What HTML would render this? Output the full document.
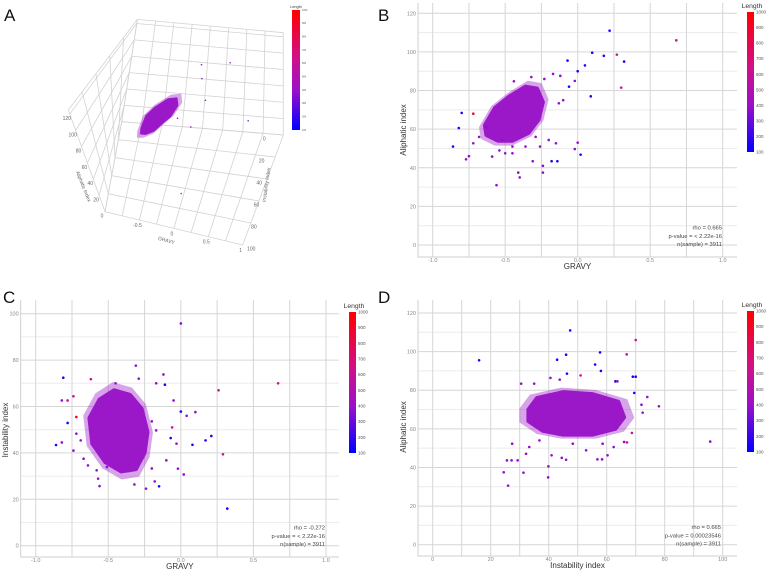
<!DOCTYPE html>
<html><head><meta charset="utf-8">
<style>
html,body{margin:0;padding:0;background:#fff;}
svg{display:block;font-family:"Liberation Sans",sans-serif;}
</style></head>
<body>
<svg id="fig" width="772" height="574" viewBox="0 0 772 574" xmlns="http://www.w3.org/2000/svg">
<defs>
<linearGradient id="lenGrad" x1="0" y1="1" x2="0" y2="0">
<stop offset="0" stop-color="#0000ff"/><stop offset="0.33" stop-color="#9a10c8"/><stop offset="0.6" stop-color="#d0108a"/><stop offset="1" stop-color="#ff0000"/>
</linearGradient>
</defs>
<text x="4" y="21" font-size="17" fill="#111">A</text>
<text x="378" y="21" font-size="17" fill="#111">B</text>
<text x="3" y="303" font-size="17" fill="#111">C</text>
<text x="378" y="303" font-size="17" fill="#111">D</text>
</svg>
<script>
// ---------- data ----------
const bGravy=[0.22,0.68,0.1,0.18,0.27,0.32,-0.07,0.05,0,0.3,0.09,-0.06,-0.02,-0.8,-0.72,-0.82,-0.86,-0.77,-0.75,-0.56,-0.41,-0.4,-0.24,-0.24,-0.18,-0.14,-0.31,0,-0.02,0.02,-0.5,-0.45,-0.15,-0.2,-0.1,-0.13,-0.44,-0.32,-0.23,-0.17,-0.12,-0.63,-0.68,-0.72,-0.59,-0.54,-0.29,-0.26,-0.36,-0.52,-0.45];
const bAliph=[111,106,99.6,98,98.6,95,95.5,93,90,81.5,77,82,85,68.4,68,60.6,51,44.4,46,31,37.5,35,41,37.5,43.4,43.4,43.4,53,49.7,46.8,47.5,47.5,52.7,54.4,75,73.4,84.8,87,86,88.6,87.6,61,56,52.7,45.8,49,56,51,51,54.4,51];
const bLen=[150,620,150,150,620,150,150,150,150,620,150,150,380,150,900,150,150,380,380,380,380,380,380,380,150,150,380,380,380,150,380,380,380,380,380,380,380,380,380,380,380,380,380,380,380,380,380,380,380,380,380];
const bBlobGravy=[-0.64,-0.57,-0.47,-0.36,-0.28,-0.24,-0.27,-0.34,-0.45,-0.55,-0.63];
const bBlobAliph=[62,71,77,82,81,74,65,58,54,54,57];

const cGravy=[0,-0.81,-0.62,-0.31,-0.29,-0.12,-0.17,-0.11,-0.45,0.67,0.26,0,0.04,0.1,-0.05,-0.06,-0.07,-0.03,0.08,0.17,0.21,0.29,-0.02,0.02,0.32,-0.86,-0.82,-0.78,-0.82,-0.78,-0.74,-0.72,-0.57,-0.56,-0.32,-0.24,-0.15,-0.18,-0.1,-0.2,-0.74,-0.67,-0.64,-0.69,-0.72,-0.2,-0.17,-0.58,-0.51];
const cInstab=[95.8,72.4,71.8,77.6,72,73.8,70,69.4,70,70,67,57.8,56,57.6,62.6,51,46.4,44,43.5,45.4,47.3,39.4,33.2,30.7,16,43.4,44.5,52.9,62.6,62.6,64.4,55.5,28.9,25.7,26.4,24.6,25.6,27.7,36.8,33.3,41,37.5,34.6,45.4,48.3,53.6,49.7,32.5,33.9];
const cLen=[380,150,620,380,380,380,380,150,380,620,620,150,380,380,380,620,150,380,150,150,150,620,380,380,150,150,380,150,380,620,620,900,380,380,380,380,150,380,380,380,380,380,380,380,380,380,380,380,380];
const cBlobGravy=[-0.63,-0.56,-0.46,-0.35,-0.27,-0.23,-0.25,-0.31,-0.41,-0.52,-0.61];
const cBlobInstab=[55,63,67,65,59,49,40,33,32,36,44];

const dInstab=[16,47.4,70,57.7,46,66.9,42.9,56,58,46.3,51,69,70,40.6,43.8,63,63.7,30.5,35,95.7,78,74,72.4,72,68.7,69.5,67,66,24.5,26,31.3,39.9,39.8,27.4,29.3,25.6,27.2,41,44.5,46,56.8,58.4,60.3,62.4,58.6,36.8,33.3,32.2,52.9,48.3];
const dAliph=[95.5,111,106,99.6,98.4,98.6,95.8,93.3,90,88.6,87.7,87,87,86.4,85.5,84.6,84.6,83.4,83.4,53.4,71.7,76.5,68.4,72.5,57.9,78.6,53,53.2,37.5,30.6,37.3,40.6,34.9,52.3,43.7,43.7,43.7,46.3,45,44,44.2,44.2,46.3,50.6,52.3,54,50.6,47.1,48.9,52.3];
const dLen=[150,150,620,150,150,620,150,150,150,150,620,150,150,380,380,150,380,380,380,380,380,380,380,380,620,150,620,380];
const dBlobInstab=[33,36,45,55,64,66,63,55,45,38,33];
const dBlobAliph=[70,76,79,78,74,66,60,57,57,59,64];

const aGravy=[-0.1,0.2,0.5,0.9,0.3,0.1,-0.2,0.0,0.4];
const aInstab=[40,30,20,40,60,80,50,10,45];
const aAliph=[60,100,110,70,80,20,75,90,95];
const aBlobGravy=[-0.5,-0.45,-0.35,-0.2,-0.1,-0.08,-0.15,-0.25,-0.35,-0.45,-0.5];
const aBlobAliph=[60,70,76,82,82,76,68,62,56,54,56];
const aBlobInstab=[55,50,45,40,38,40,45,48,52,55,57];

const lenTicks=[100,200,300,400,500,600,700,800,900,1000];

// ---------- helpers ----------
const NS="http://www.w3.org/2000/svg";
const svg=document.getElementById('fig');
function el(tag,attrs,parent){const e=document.createElementNS(NS,tag);for(const k in attrs)e.setAttribute(k,attrs[k]);(parent||svg).appendChild(e);return e;}
function lenColor(L){
  const t=Math.max(0,Math.min(1,(L-100)/900));
  const st=[[0,0,0,255],[0.33,154,16,200],[0.6,208,16,138],[1,255,0,0]];
  for(let i=1;i<st.length;i++){if(t<=st[i][0]){const a=st[i-1],b=st[i],f=(t-a[0])/(b[0]-a[0]);
    return 'rgb('+Math.round(a[1]+f*(b[1]-a[1]))+','+Math.round(a[2]+f*(b[2]-a[2]))+','+Math.round(a[3]+f*(b[3]-a[3]))+')';}}
  return 'rgb(255,0,0)';
}
const BLOB='#9b18c9';
function halo(ptsArr,k){
  let cx=0,cy=0;ptsArr.forEach(p=>{cx+=p[0];cy+=p[1];});cx/=ptsArr.length;cy/=ptsArr.length;
  return ptsArr.map(p=>(cx+(p[0]-cx)*k)+','+(cy+(p[1]-cy)*k)).join(' ');
}

function colorbar(g,x,y0,y1,w,fs,lx,ly,name){
  const r=el('rect',{x:x,y:y0,width:w,height:y1-y0,fill:'url(#lenGrad)'},g);
  
  
  const t=el('text',{x:lx,y:ly,'font-size':fs*1.5,fill:'#333','text-anchor':'middle'},g);t.textContent='Length';
  
  
  lenTicks.forEach(v=>{
    const yy=y1-(v-100)/900*(y1-y0);
    const tt=el('text',{x:x+w+2,y:yy+fs*0.35,'font-size':fs,fill:'#555'},g);tt.textContent=v;
    
    
  });
}

function panel(cfg){
  const g=el('g',{});
  
  
  const X=v=>cfg.x0+(v-cfg.xv0)*(cfg.x1-cfg.x0)/(cfg.xv1-cfg.xv0);
  const Y=v=>cfg.y0+(v-cfg.yv0)*(cfg.y1-cfg.y0)/(cfg.yv1-cfg.yv0);
  cfg.yMinor.forEach(v=>{const l=el('line',{x1:cfg.L,x2:cfg.R,y1:Y(v),y2:Y(v),stroke:'#ececec','stroke-width':1},g);
    
    });
  cfg.xTicks.forEach(v=>{const l=el('line',{x1:X(v),x2:X(v),y1:cfg.T,y2:cfg.B,stroke:'#d6d6d6','stroke-width':1},g);
    
    });
  cfg.xMinor.forEach(v=>{const l=el('line',{x1:X(v),x2:X(v),y1:cfg.T,y2:cfg.B,stroke:'#d6d6d6','stroke-width':1},g);
    
    });
  cfg.yTicks.forEach(v=>{const l=el('line',{x1:cfg.L,x2:cfg.R,y1:Y(v),y2:Y(v),stroke:'#d6d6d6','stroke-width':1},g);
    
    
    const t=el('text',{x:cfg.L-2,y:Y(v)+2,'font-size':5.5,fill:'#888','text-anchor':'end'},g);t.textContent=v;
    
    });
  cfg.xTicks.forEach(v=>{const t=el('text',{x:X(v),y:cfg.B+5,'font-size':5.5,fill:'#888','text-anchor':'middle'},g);t.textContent=v.toFixed(cfg.xdec);
    
    });
  const ax=el('polyline',{points:cfg.L+','+cfg.T+' '+cfg.L+','+cfg.B+' '+cfg.R+','+cfg.B,fill:'none',stroke:'#cfcfcf','stroke-width':1},g);
  
  
  const bpts=cfg.blobX.map((v,i)=>[X(v),Y(cfg.blobY[i])]);
  const hl=el('polygon',{points:halo(bpts,1.2),fill:BLOB,'fill-opacity':0.4,stroke:'none'},g);
  
  
  const bl=el('polygon',{points:bpts.map(p=>p.join(',')).join(' '),fill:BLOB,stroke:BLOB,'stroke-width':4,'stroke-linejoin':'round'},g);
  
  
  cfg.px.forEach((v,i)=>{
    const c=el('circle',{cx:X(v),cy:Y(cfg.py[i]),r:1.3,fill:lenColor(cfg.pl[i]!==undefined?cfg.pl[i]:380)},g);
    
    
  });
  const xt=el('text',{x:(cfg.L+cfg.R)/2,y:cfg.B+12,'font-size':8,fill:'#333','text-anchor':'middle'},g);xt.textContent=cfg.xTitle;
  
  
  const yt=el('text',{x:0,y:0,'font-size':8,fill:'#333','text-anchor':'middle',transform:'translate('+cfg.ytx+','+cfg.yty+') rotate(-90)'},g);yt.textContent=cfg.yTitle;
  
  
  cfg.ann.forEach((s,i)=>{const t=el('text',{x:cfg.annX,y:cfg.annY+i*8.3,'font-size':5.8,fill:'#444','text-anchor':'end'},g);t.textContent=s;
    
    });
  colorbar(g,cfg.cbX,cfg.cbT,cfg.cbB,7,4.5,cfg.cbX+5,cfg.cbT-4,cfg.name);
}
const ten=[10,30,50,70,90,110];
panel({name:'panel-b',x0:432.7,x1:722.7,xv0:-1,xv1:1,y0:245,y1:13.3,yv0:0,yv1:120,L:418,R:737,T:3,B:257,
  xTicks:[-1,-0.5,0,0.5,1],xMinor:[-0.75,-0.25,0.25,0.75],xdec:1,yTicks:[0,20,40,60,80,100,120],yMinor:ten,
  blobX:bBlobGravy,blobY:bBlobAliph,px:bGravy,py:bAliph,pl:bLen,xTitle:'GRAVY',yTitle:'Aliphatic index',ytx:406,yty:130,
  ann:['rho =  0.665','p-value =  < 2.22e-16','n(sample) = 3911'],annX:722,annY:229.5,cbX:747,cbT:12,cbB:152});
panel({name:'panel-c',x0:35.7,x1:326,xv0:-1,xv1:1,y0:545.7,y1:313.7,yv0:0,yv1:100,L:20.7,R:339,T:300,B:557,
  xTicks:[-1,-0.5,0,0.5,1],xMinor:[-0.75,-0.25,0.25,0.75],xdec:1,yTicks:[0,20,40,60,80,100],yMinor:[10,30,50,70,90],
  blobX:cBlobGravy,blobY:cBlobInstab,px:cGravy,py:cInstab,pl:cLen,xTitle:'GRAVY',yTitle:'Instability index',ytx:8,yty:430,
  ann:['rho =  -0.272','p-value =  < 2.22e-16','n(sample) = 3911'],annX:325,annY:529.5,cbX:349,cbT:312,cbB:453});
panel({name:'panel-d',x0:432.7,x1:722.7,xv0:0,xv1:100,y0:544.7,y1:313,yv0:0,yv1:120,L:418,R:737,T:300,B:556,
  xTicks:[0,20,40,60,80,100],xMinor:[10,30,50,70,90],xdec:0,yTicks:[0,20,40,60,80,100,120],yMinor:ten,
  blobX:dBlobInstab,blobY:dBlobAliph,px:dInstab,py:dAliph,pl:dLen,xTitle:'Instability index',yTitle:'Aliphatic index',ytx:406,yty:427,
  ann:['rho =  0.665','p-value =  0.00023546','n(sample) = 3911'],annX:721,annY:529,cbX:747,cbT:311,cbB:452});

// ---------- panel A (3D) ----------
(function(){
  const g=el('g',{});
  
  
  const BL=[121.7,121.7],BR=[283.3,135],FR=[242.7,245],FL=[105,211.7];
  const dBL=[15.7,-102.3],dBR=[0,-102.3],dFL=[-36.7,-101.7],dFR=[-52.3,-101.7];
  const ATOP=125;
  function P(gr,ins,al){
    const u=(gr+1)/2,v=ins/100,s=al/ATOP;
    const w=[(1-u)*(1-v),u*(1-v),u*v,(1-u)*v];
    const f=[BL,BR,FR,FL],d=[dBL,dBR,dFR,dFL];
    let x=0,y=0;for(let i=0;i<4;i++){x+=w[i]*(f[i][0]+s*d[i][0]);y+=w[i]*(f[i][1]+s*d[i][1]);}
    return [x,y];
  }
  function line(a,b,name){const l=el('line',{x1:a[0],y1:a[1],x2:b[0],y2:b[1],stroke:'#d2d2d2','stroke-width':0.8},g);
    
    }
  const gv=[-1,-0.75,-0.5,-0.25,0,0.25,0.5,0.75,1],iv=[0,20,40,60,80,100],av=[0,20,40,60,80,100,120,ATOP];
  gv.forEach(x=>{line(P(x,0,0),P(x,100,0),'floor-gridline');line(P(x,0,0),P(x,0,ATOP),'back-wall-gridline');});
  iv.forEach(i=>{line(P(-1,i,0),P(1,i,0),'floor-gridline');line(P(-1,i,0),P(-1,i,ATOP),'side-wall-gridline');});
  av.forEach(a=>{line(P(-1,0,a),P(1,0,a),'back-wall-gridline');line(P(-1,0,a),P(-1,100,a),'side-wall-gridline');});
  const bpts=aBlobGravy.map((v,i)=>P(v,aBlobInstab[i],aBlobAliph[i]));
  const hl=el('polygon',{points:halo(bpts,1.25),fill:BLOB,'fill-opacity':0.4,stroke:'none'},g);
  
  
  const bl=el('polygon',{points:bpts.map(p=>p.join(',')).join(' '),fill:BLOB,stroke:BLOB,'stroke-width':2,'stroke-linejoin':'round'},g);
  
  
  aGravy.forEach((v,i)=>{const p=P(v,aInstab[i],aAliph[i]);
    const c=el('circle',{cx:p[0],cy:p[1],r:0.8,fill:'#8a20d0'},g);
    
    });
  [0,20,40,60,80,100,120].forEach(a=>{const p=P(-1,100,a);
    const t=el('text',{x:p[0]-3,y:p[1]+6,'font-size':5,fill:'#666','text-anchor':'middle'},g);t.textContent=a;
    
    });
  [-0.5,0,0.5,1].forEach(x=>{const p=P(x,100,0);
    const t=el('text',{x:p[0]-2,y:p[1]+7,'font-size':5,fill:'#666','text-anchor':'middle'},g);t.textContent=x;
    
    });
  [0,20,40,60,80,100].forEach(i=>{const f=i/100;
    const t=el('text',{x:262.3+f*(249.3-262.3)+2,y:138.3+f*(248.3-138.3)+2,'font-size':5,fill:'#666','text-anchor':'middle'},g);t.textContent=i;
    
    });
  const t1=el('text',{x:0,y:0,'font-size':5,fill:'#666','text-anchor':'middle',transform:'translate(166,242) rotate(15)'},g);t1.textContent='GRAVY';
  
  
  const t2=el('text',{x:0,y:0,'font-size':5,fill:'#666','text-anchor':'middle',transform:'translate(82,187) rotate(68)'},g);t2.textContent='Aliphatic Index';
  
  
  const t3=el('text',{x:0,y:0,'font-size':5,fill:'#666','text-anchor':'middle',transform:'translate(268,185) rotate(-82)'},g);t3.textContent='Instability Index';
  
  
  colorbar(g,292,10,130,8,2.5,296,8,'panel-a');
})();
</script>
</body></html>
